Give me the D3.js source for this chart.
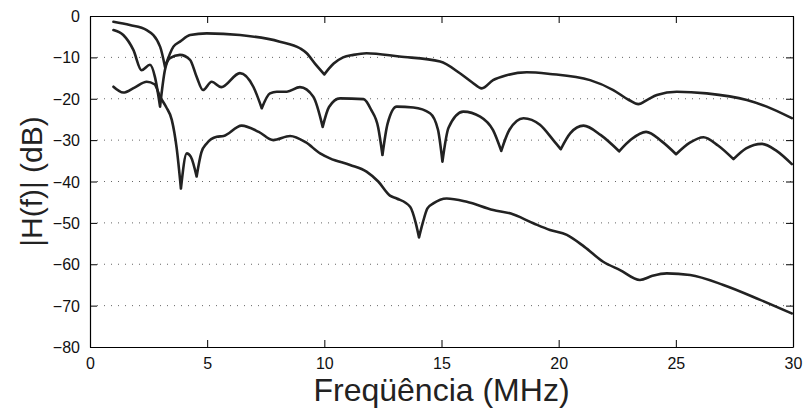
<!DOCTYPE html>
<html>
<head>
<meta charset="utf-8">
<script src="https://cdn.jsdelivr.net/npm/d3@7"></script>
<style>
  html, body { margin: 0; padding: 0; background: #fff; }
  svg { display: block; font-family: "Liberation Sans", Arial, Helvetica, sans-serif; }
</style>
</head>
<body>
<svg id="chart" width="803" height="411"></svg>
<script>
// ---- data ----
const xTicks = [0, 5, 10, 15, 20, 25, 30];
const yTicks = [0, -10, -20, -30, -40, -50, -60, -70, -80];
const xLabel = "Freqüência (MHz)";
const yLabel = "|H(f)| (dB)";

const topFreq = [1.0, 1.7, 2.42, 2.99, 3.2, 3.56, 3.84, 4.27, 4.98, 6.4, 8.1, 8.96, 9.25, 9.6, 10.0, 10.4, 10.8, 11.24, 11.8, 13.2, 14.94, 15.8, 16.3, 16.72, 17.2, 17.78, 18.64, 19.63, 21.34, 22.33, 23.0, 23.4, 23.8, 24.19, 25.04, 26.32, 28.03, 28.88, 29.95];
const topDb   = [-1.4, -2.2, -3.4, -7.4, -12.3, -7.4, -6.2, -4.6, -4.2, -4.6, -6.2, -7.8, -9.0, -11.5, -14.1, -11.5, -10.0, -9.4, -9.0, -9.8, -11.0, -13.9, -16.0, -17.5, -15.5, -14.3, -13.6, -14.0, -15.5, -17.9, -20.3, -21.3, -20.2, -19.1, -18.3, -18.7, -20.3, -21.9, -24.7];

const midFreq = [1.0, 1.42, 1.85, 2.2, 2.56, 2.77, 2.99, 3.2, 3.41, 3.84, 4.27, 4.55, 4.82, 5.19, 5.6, 6.4, 6.97, 7.33, 7.68, 7.97, 8.4, 8.96, 9.53, 9.93, 10.2, 10.67, 11.67, 12.0, 12.3, 12.48, 12.7, 13.09, 13.8, 14.51, 14.85, 15.04, 15.3, 15.93, 16.65, 17.2, 17.55, 17.9, 18.5, 19.2, 19.77, 20.09, 20.5, 21.06, 21.8, 22.58, 23.1, 23.73, 24.4, 25.01, 25.6, 26.18, 26.8, 27.46, 28.0, 28.67, 29.3, 29.95];
const midDb   = [-3.4, -4.6, -8.2, -13.1, -11.8, -14.7, -21.9, -13.0, -10.2, -9.4, -10.6, -14.7, -17.9, -15.9, -17.2, -13.8, -17.1, -22.3, -18.7, -18.3, -18.3, -17.2, -19.5, -26.8, -22.0, -19.9, -20.1, -22.7, -27.0, -33.6, -26.0, -21.9, -22.1, -23.5, -27.5, -35.2, -27.0, -23.1, -24.3, -27.6, -32.6, -27.5, -24.7, -26.3, -30.0, -32.2, -28.3, -26.5, -28.8, -32.7, -29.8, -28.0, -30.3, -33.4, -30.6, -29.3, -31.3, -34.6, -32.0, -30.9, -32.6, -35.8];

const lowFreq = [1.0, 1.42, 1.9, 2.42, 2.75, 2.99, 3.25, 3.49, 3.7, 3.88, 4.13, 4.3, 4.55, 4.75, 4.98, 5.41, 5.7, 6.47, 7.2, 7.82, 8.54, 9.2, 9.82, 10.24, 11.1, 11.8, 12.3, 12.8, 13.09, 13.66, 13.9, 14.04, 14.2, 14.4, 14.65, 15.22, 16.08, 17.21, 17.93, 18.92, 19.63, 20.35, 21.1, 21.9, 22.62, 23.47, 24.0, 24.61, 25.61, 27.03, 28.6, 29.95];
const lowDb   = [-17.1, -18.5, -17.3, -15.9, -16.5, -19.5, -22.0, -25.1, -32.0, -41.7, -33.2, -34.0, -38.8, -33.0, -30.8, -29.2, -29.0, -26.5, -28.0, -30.0, -29.0, -30.5, -33.2, -34.4, -36.0, -37.6, -40.0, -43.4, -44.1, -46.1, -50.0, -53.5, -50.0, -46.5, -45.3, -44.1, -44.9, -46.9, -47.7, -50.1, -51.7, -52.9, -55.8, -59.4, -61.4, -63.8, -62.8, -62.2, -62.6, -65.0, -68.6, -71.9];

// ---- layout ----
const W = 803, H = 411;
const margin = { left: 90, top: 16, right: 10, bottom: 64 };
const iw = W - margin.left - margin.right;
const ih = H - margin.top - margin.bottom;

const svg = d3.select("#chart");
const g = svg.append("g").attr("transform", `translate(${margin.left},${margin.top})`);

const x = d3.scaleLinear().domain([0, 30]).range([0, iw]);
const y = d3.scaleLinear().domain([-80, 0]).range([ih, 0]);

// grid (horizontal dotted)
g.append("g").selectAll("line")
  .data(yTicks.filter(v => v !== 0 && v !== -80))
  .join("line")
  .attr("x1", 0).attr("x2", iw)
  .attr("y1", d => y(d)).attr("y2", d => y(d))
  .attr("stroke", "#666").attr("stroke-width", 1)
  .attr("stroke-dasharray", "1,6");

const fmt = d3.format("d");
const tickLen = 7;
const xAxis = g.append("g").attr("transform", `translate(0,${ih})`)
  .call(d3.axisBottom(x).tickValues(xTicks).tickFormat(fmt).tickSizeInner(-tickLen).tickSizeOuter(0).tickPadding(11));
const xAxisTop = g.append("g")
  .call(d3.axisTop(x).tickValues(xTicks).tickFormat("").tickSizeInner(-tickLen).tickSizeOuter(0));
const yAxis = g.append("g")
  .call(d3.axisLeft(y).tickValues(yTicks).tickFormat(fmt).tickSizeInner(-tickLen).tickSizeOuter(0).tickPadding(10));
const yAxisRight = g.append("g").attr("transform", `translate(${iw},0)`)
  .call(d3.axisRight(y).tickValues(yTicks).tickFormat("").tickSizeInner(-tickLen).tickSizeOuter(0));

[xAxis, xAxisTop, yAxis, yAxisRight].forEach(a => {
  a.select(".domain").attr("stroke", "#000").attr("stroke-width", 1.2);
  a.selectAll(".tick line").attr("stroke", "#000").attr("stroke-width", 1);
  a.selectAll("text").attr("font-size", 16).attr("fill", "#111")
    .attr("font-family", "'Liberation Sans', Arial, sans-serif");
});
yAxis.selectAll("text").attr("dy", "0.35em");

// curves: split at sharp notches (local minima) so they render as cusps
const line = d3.line().x(d => x(d[0])).y(d => y(d[1])).curve(d3.curveMonotoneX);
function pathFor(pts) {
  const segs = [];
  let start = 0;
  for (let i = 1; i < pts.length - 1; i++) {
    const a = pts[i - 1][1] - pts[i][1], b = pts[i + 1][1] - pts[i][1];
    if (a > 2 && b > 2) { segs.push(pts.slice(start, i + 1)); start = i; }
  }
  segs.push(pts.slice(start));
  return segs.map(s => line(s)).join("");
}
const series = [
  d3.zip(topFreq, topDb),
  d3.zip(midFreq, midDb),
  d3.zip(lowFreq, lowDb)
];
g.append("g").selectAll("path")
  .data(series)
  .join("path")
  .attr("d", pathFor)
  .attr("fill", "none")
  .attr("stroke", "#222")
  .attr("stroke-width", 2.6)
  .attr("stroke-linejoin", "round")
  .attr("stroke-linecap", "round");

// axis labels
svg.append("text")
  .attr("x", margin.left + iw / 2 + 0)
  .attr("y", 401)
  .attr("text-anchor", "middle")
  .attr("font-size", 32)
  .attr("fill", "#222")
  .text(xLabel);

svg.append("text")
  .attr("transform", `translate(42,${margin.top + ih / 2}) rotate(-90)`)
  .attr("text-anchor", "middle")
  .attr("font-size", 30)
  .attr("fill", "#222")
  .text(yLabel);
</script>
</body>
</html>
